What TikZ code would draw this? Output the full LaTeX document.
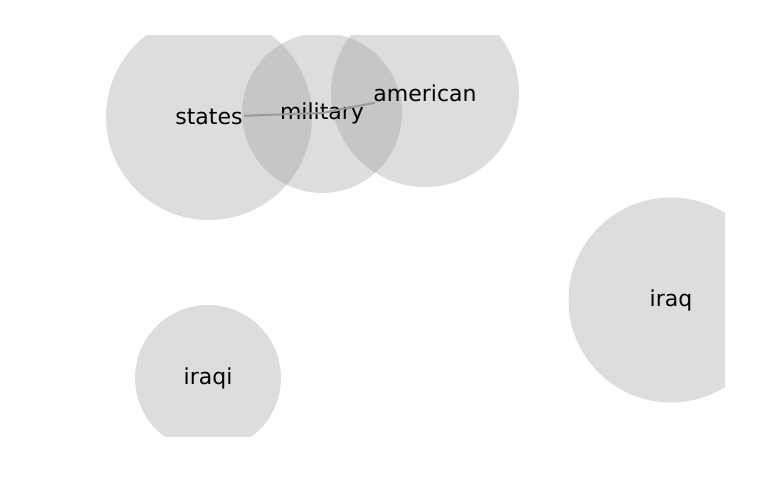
\documentclass[tikz,border=0pt]{standalone}
\usepackage{fontspec}
\setmainfont{DejaVu Sans}
\usepackage{tikz}
\definecolor{blobgray}{HTML}{969696}
\definecolor{edgegray}{HTML}{9A9A9A}

\begin{document}
\begin{tikzpicture}[
  x=1pt,y=-1pt,
  blob/.style={circle,fill=blobgray,fill opacity=0.32,inner sep=0pt},
  word/.style={font=\fontsize{22}{26}\selectfont,inner sep=1pt,text=black},
  edge/.style={draw=edgegray,line width=2pt},
]
\useasboundingbox (0,0) rectangle (769,500);
\begin{scope}
  \clip (44,36) rectangle (725,436);
  \node[blob,minimum size=206pt] (statesbg) at (209,117) {};
  \node[blob,minimum size=160pt] (militarybg) at (322,113) {};
  \node[blob,minimum size=188pt] (americanbg) at (425,93) {};
  \node[blob,minimum size=205pt] (iraqbg) at (671,300) {};
  \node[blob,minimum size=146pt] (iraqibg) at (208,378) {};
\end{scope}

\node[word] (states) at (209,117) {states};
\node[word] (military) at (322,113) {military};
\node[word] (american) at (425,93) {american};
\node[word] (iraq) at (671,300) {iraq};
\node[word] (iraqi) at (208,378) {iraqi};

\draw[edge] (states) -- (military.center);
\draw[edge] (military.center) -- (american);
\end{tikzpicture}
\end{document}
